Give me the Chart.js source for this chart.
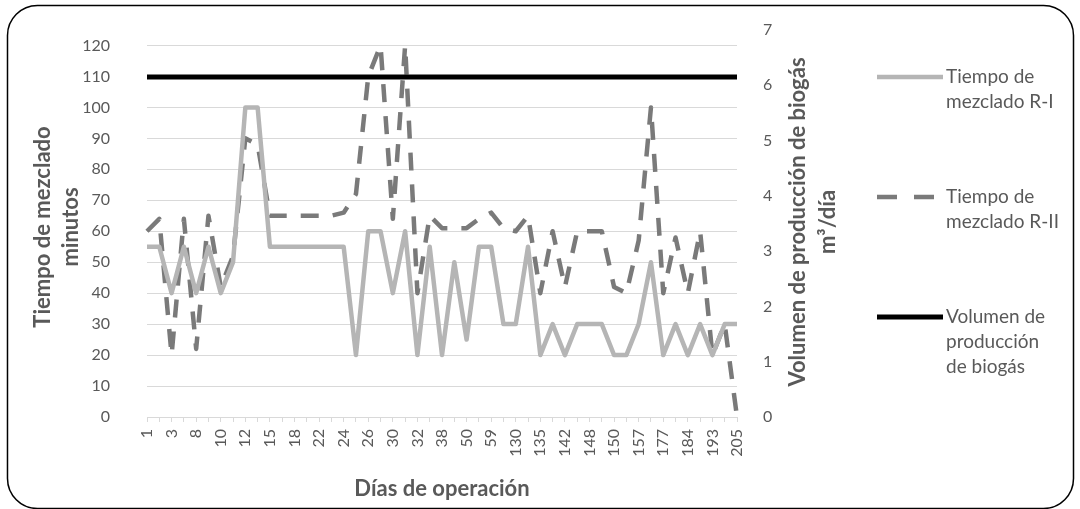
<!DOCTYPE html>
<html lang="es">
<head>
<meta charset="utf-8">
<title>Tiempo de mezclado y volumen de biogás</title>
<script src="https://cdn.jsdelivr.net/npm/chart.js@4.4.1/dist/chart.umd.min.js"></script>
<style>
  html, body { margin: 0; padding: 0; background: #fff; }
</style>
</head>
<body>
<canvas id="grafico" width="1080" height="509"></canvas>
<script>
// Días de operación (solo se rotula una categoría de cada dos)
const dias = ['1', '', '3', '', '8', '', '10', '', '12', '', '15', '', '18', '', '22', '', '24', '', '26', '',
  '30', '', '32', '', '38', '', '50', '', '59', '', '130', '', '135', '', '142', '', '148', '', '150', '',
  '157', '', '177', '', '184', '', '193', '', '205'];

// Tiempo de mezclado (minutos)
const mezcladoR1 = [55, 55, 40, 55, 40, 55, 40, 50, 100, 100,
  55, 55, 55, 55, 55, 55, 55, 20, 60, 60,
  40, 60, 20, 55, 20, 50, 25, 55, 55, 30,
  30, 55, 20, 30, 20, 30, 30, 30, 20, 20,
  30, 50, 20, 30, 20, 30, 20, 30, 30];

const mezcladoR2 = [60, 64, 20, 64, 22, 65, 42, 52, 90, 88,
  65, 65, 65, 65, 65, 65, 66, 72, 110, 120,
  64, 120, 40, 65, 61, 61, 61, 64, 66, 61,
  60, 65, 40, 60, 42, 60, 60, 60, 42, 40,
  57, 100, 40, 58, 40, 60, 20, 30, 0];

// Volumen de producción de biogás (m3/día)
const volumenBiogas = [6.15, 6.15, 6.15, 6.15, 6.15, 6.15, 6.15, 6.15, 6.15, 6.15,
  6.15, 6.15, 6.15, 6.15, 6.15, 6.15, 6.15, 6.15, 6.15, 6.15,
  6.15, 6.15, 6.15, 6.15, 6.15, 6.15, 6.15, 6.15, 6.15, 6.15,
  6.15, 6.15, 6.15, 6.15, 6.15, 6.15, 6.15, 6.15, 6.15, 6.15,
  6.15, 6.15, 6.15, 6.15, 6.15, 6.15, 6.15, 6.15, 6.15];

const textoGris = '#595959';
const fuente = 'Lato, "Open Sans", sans-serif';

// Leyenda y títulos dibujados a mano (Excel los coloca fuera del área del gráfico)
const decoracion = {
    id: 'decoracion',
    beforeDraw(chart) {
        const ctx = chart.ctx;
        ctx.save();
        ctx.fillStyle = '#fff';
        ctx.fillRect(0, 0, chart.width, chart.height);
        ctx.strokeStyle = '#000';
        ctx.lineWidth = 1.5;
        ctx.beginPath();
        ctx.roundRect(7.5, 5.5, 1066, 503, 30);
        ctx.stroke();
        ctx.restore();
    },
    afterDraw(chart) {
        const ctx = chart.ctx;
        ctx.save();
        ctx.fillStyle = textoGris;
        ctx.textAlign = 'center';
        ctx.textBaseline = 'middle';

        // títulos de ejes
        ctx.font = 'bold 22px ' + fuente;
        ctx.fillText('Días de operación', 442, 489);

        ctx.save();
        ctx.translate(43, 227);
        ctx.rotate(-Math.PI / 2);
        ctx.fillText('Tiempo de mezclado', 0, 0);
        ctx.fillText('minutos', 0, 28);
        ctx.restore();

        ctx.save();
        ctx.translate(798, 222);
        ctx.rotate(-Math.PI / 2);
        ctx.fillText('Volumen de producción de biogás', 0, 0);
        ctx.fillText('m³/día', 0, 30);
        ctx.restore();

        // leyenda
        const filas = [
            { y: 77, fin: 943, lineas: ['Tiempo de', 'mezclado R-I'] },
            { y: 197, fin: 934, lineas: ['Tiempo de', 'mezclado R-II'] },
            { y: 317, fin: 943, lineas: ['Volumen de', 'producción', 'de biogás'] }
        ];
        ctx.textAlign = 'left';
        ctx.font = '19px ' + fuente;
        chart.data.datasets.forEach((ds, i) => {
            const f = filas[i];
            ctx.save();
            ctx.strokeStyle = ds.borderColor;
            ctx.lineWidth = ds.borderWidth;
            ctx.setLineDash(ds.borderDash ? [20, 17] : []);
            ctx.beginPath();
            ctx.moveTo(877, f.y);
            ctx.lineTo(f.fin, f.y);
            ctx.stroke();
            ctx.restore();
            f.lineas.forEach((t, k) => ctx.fillText(t, 946, f.y + k * 25));
        });
        ctx.restore();
    }
};

// el padding de las etiquetas no debe empujar el área del gráfico hacia abajo
function fijarAncho(ancho) {
    return (s) => {
        s.width = ancho;
        s.paddingTop = 10;
        s.paddingBottom = 10;
    };
}

new Chart(document.getElementById('grafico').getContext('2d'), {
    type: 'line',
    data: {
        labels: dias,
        datasets: [
            {
                label: 'Tiempo de mezclado R-I',
                data: mezcladoR1,
                borderColor: '#b5b5b5',
                borderWidth: 4.5,
                pointRadius: 0,
                borderJoinStyle: 'round',
                yAxisID: 'y',
                order: 2
            },
            {
                label: 'Tiempo de mezclado R-II',
                data: mezcladoR2,
                borderColor: '#7a7a7a',
                borderWidth: 4.5,
                borderDash: [18, 14],
                pointRadius: 0,
                borderJoinStyle: 'round',
                yAxisID: 'y',
                order: 3
            },
            {
                label: 'Volumen de producción de biogás',
                data: volumenBiogas,
                borderColor: '#000',
                borderWidth: 5,
                pointRadius: 0,
                yAxisID: 'y1',
                order: 1
            }
        ]
    },
    options: {
        responsive: false,
        animation: false,
        layout: { padding: { top: 30, left: 0, right: 0, bottom: 0 } },
        plugins: {
            legend: { display: false },
            tooltip: { enabled: false }
        },
        scales: {
            x: {
                offset: false,
                grid: { drawOnChartArea: false, drawTicks: true, tickLength: 5, color: '#d9d9d9' },
                border: { color: '#d9d9d9' },
                ticks: {
                    autoSkip: false,
                    maxRotation: 90,
                    minRotation: 90,
                    padding: 7,
                    color: textoGris,
                    font: { family: fuente, size: 16 }
                },
                afterFit: (s) => { s.height = 92; }
            },
            y: {
                position: 'left',
                min: 0,
                max: 125,
                ticks: {
                    stepSize: 10,
                    includeBounds: false,
                    padding: 37,
                    color: textoGris,
                    font: { family: fuente, size: 16 }
                },
                grid: { color: '#d9d9d9', drawTicks: false },
                border: { display: false },
                afterFit: fijarAncho(147)
            },
            y1: {
                position: 'right',
                min: 0,
                max: 7,
                ticks: {
                    stepSize: 1,
                    padding: 26,
                    color: textoGris,
                    font: { family: fuente, size: 16 }
                },
                grid: { drawOnChartArea: false, drawTicks: false },
                border: { display: false },
                afterFit: fijarAncho(343)
            }
        }
    },
    plugins: [decoracion]
});
</script>
</body>
</html>
